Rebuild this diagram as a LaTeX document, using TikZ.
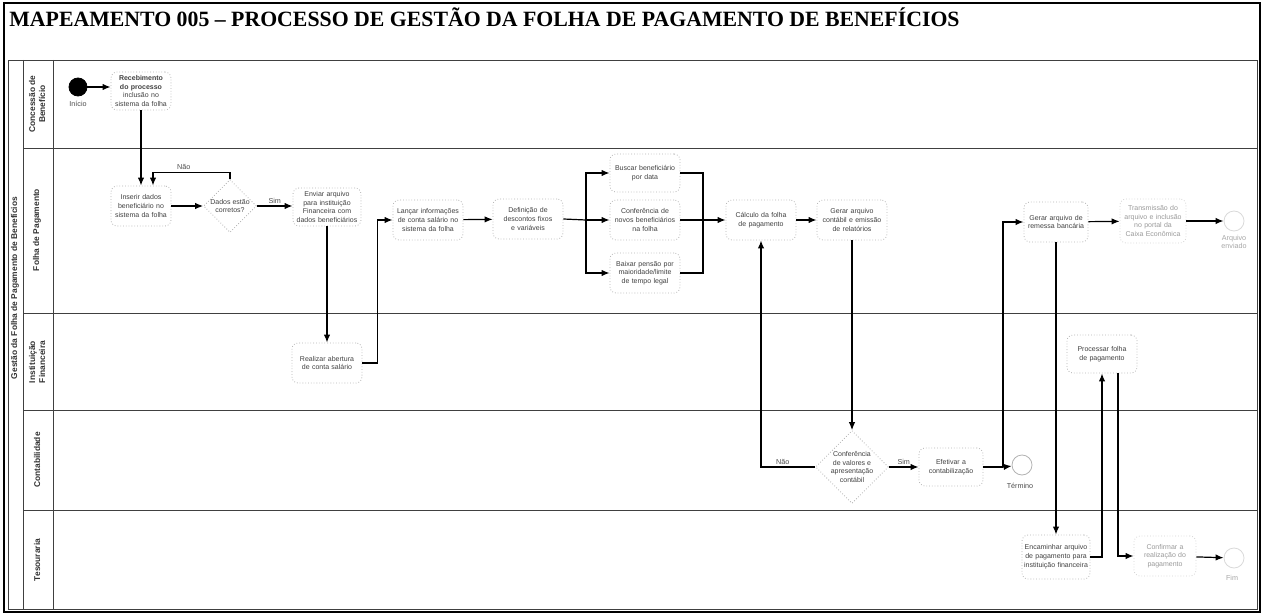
\documentclass[tikz,border=0pt]{standalone}
\usepackage{fontspec}
\setmainfont{Liberation Serif}
\newfontfamily\arial{Liberation Sans}
\usetikzlibrary{shapes.geometric,arrows.meta}
\hyphenpenalty=10000
\exhyphenpenalty=10000
\tikzset{
  tarefa/.style={draw=gray!60, densely dotted, rounded corners=3pt, minimum width=35pt, minimum height=20pt,
    text width=33pt, align=center, inner sep=1pt, font=\arial\fontsize{3.5}{4.4}\selectfont, text=black!75},
  apagada/.style={tarefa, draw=gray!35, text=black!40},
  decisao/.style={diamond, draw=gray!60, densely dotted, aspect=1, inner sep=0pt, align=center,
    font=\arial\fontsize{3.5}{4.2}\selectfont, text=black!75},
  evento/.style={circle, draw=gray!60, minimum size=10pt, inner sep=0pt},
  rotulo/.style={font=\arial\fontsize{3.6}{4.4}\selectfont, text=black!70, inner sep=1pt, align=center},
  fluxo/.style={draw=black, line width=0.6pt, -{Latex[length=4pt,width=3.2pt]}},
  linha/.style={draw=black, line width=0.6pt},
  raia/.style={draw=black!75, line width=0.4pt},
  nomeraia/.style={rotate=90, font=\arial\bfseries\fontsize{4.2}{5}\selectfont, align=center, text=black!80},
}
\begin{document}
\begin{tikzpicture}[x=0.5pt,y=-0.5pt]
   \useasboundingbox (0,0) rectangle (1263,615);
   \draw[line width=0.8pt] (4,3) rectangle (1260,612);
   \node[anchor=base west, inner sep=0pt, font=\bfseries\fontsize{10.9}{12}\selectfont] (titulo) at (9,27)
      {MAPEAMENTO 005 – PROCESSO DE GESTÃO DA FOLHA DE PAGAMENTO DE BENEFÍCIOS};

   \draw[raia] (8,60) rectangle (1257,609);
   \draw[raia] (23,60) -- (23,609);
   \draw[raia] (53,60) -- (53,609);
   \draw[raia] (23,148) -- (1257,148);
   \draw[raia] (23,313) -- (1257,313);
   \draw[raia] (23,410) -- (1257,410);
   \draw[raia] (23,510) -- (1257,510);

   \node[nomeraia] (pool) at (15,288) {Gestão da Folha de Pagamento de Benefícios};
   \node[nomeraia] (concessao) at (37,104) {Concessão de\\Benefício};
   \node[nomeraia] (folha) at (37,230) {Folha de Pagamento};
   \node[nomeraia] (instituicao) at (37,362) {Instituição\\Financeira};
   \node[nomeraia] (contabil) at (37,460) {Contabilidade};
   \node[nomeraia] (tesouraria) at (37,560) {Tesouraria};

   \node[evento, fill=black, draw=black, minimum size=9pt] (inicio) at (78,87) {};
   \node[rotulo] at (78,104) {Início};
   \node[tarefa, minimum width=29pt, minimum height=19pt, text width=28pt] (recebe) at (141,91)
      {\textbf{Recebimento do processo}\\inclusão no sistema da folha};

   \node[tarefa, minimum width=28pt, text width=28pt] (inserir) at (141,206) {Inserir dados beneficiário no sistema da folha};
   \node[decisao, minimum width=25pt, minimum height=25pt] (dados) at (230,206) {Dados estão\\corretos?};
   \node[tarefa, minimum width=32pt, minimum height=19pt, text width=32pt] (enviar) at (327,207)
      {Enviar arquivo para instituição Financeira com dados beneficiários};
   \node[tarefa] (lancar) at (428,220) {Lançar informações de conta salário no sistema da folha};
   \node[tarefa] (descontos) at (528,219) {Definição de descontos fixos e variáveis};
   \node[tarefa, minimum height=19pt] (buscar) at (645,173) {Buscar beneficiário por data};
   \node[tarefa] (conferencia) at (645,220) {Conferência de novos beneficiários na folha};
   \node[tarefa] (baixar) at (645,273) {Baixar pensão por maioridade/limite de tempo legal};
   \node[tarefa] (calculo) at (761,220) {Cálculo da folha de pagamento};
   \node[tarefa] (gerar) at (852,220) {Gerar arquivo contábil e emissão de relatórios};
   \node[tarefa, minimum width=32pt, text width=30pt] (remessa) at (1056,222) {Gerar arquivo de remessa bancária};
   \node[apagada, minimum width=32pt, minimum height=22pt, text width=31pt] (transmite) at (1153,221)
      {Transmissão do arquivo e inclusão no portal da Caixa Econômica};
   \node[evento, draw=gray!30] (fim2) at (1234,221) {};
   \node[rotulo, text=black!35] at (1234,242) {Arquivo\\enviado};

   \node[tarefa] (abertura) at (327,363) {Realizar abertura de conta salário};
   \node[tarefa, minimum width=33pt, minimum height=19pt] (processa) at (1102,354) {Processar folha de pagamento};

   \node[decisao, minimum width=35pt, minimum height=35pt] (conferir) at (852,467)
      {Conferência\\de valores e\\apresentação\\contábil};
   \node[tarefa, minimum width=32pt, minimum height=19pt, text width=30pt] (efetivar) at (951,467) {Efetivar a contabilização};
   \node[evento] (fim1) at (1022,465) {};
   \node[rotulo] at (1020,486) {Término};

   \node[tarefa, minimum width=33pt, minimum height=22pt, text width=32pt] (encaminha) at (1056,557)
      {Encaminhar arquivo de pagamento para instituição financeira};
   \node[apagada, minimum width=30pt, text width=29pt] (confirma) at (1165,556) {Confirmar a realização do pagamento};
   \node[evento, draw=gray!30] (fim3) at (1234,558) {};
   \node[rotulo, text=black!35] at (1232,578) {Fim};

   \draw[fluxo] (inicio) -- (inicio -| recebe.west);
   \draw[fluxo] (recebe.south) -- (recebe.south |- inserir.north);
   \draw[fluxo] (inserir) -- (dados);
   \draw[fluxo] (dados.north) -- ++(0,-7) -| node[rotulo, pos=0.3, above] {Não} ([xshift=6pt]inserir.north);
   \draw[fluxo] (dados.east) -- node[rotulo, above] {Sim} (dados.east -| enviar.west);
   \draw[fluxo] (enviar.south) -- (abertura.north);
   \draw[fluxo] (abertura.east) -- ++(15,0) |- (lancar.west);
   \draw[fluxo] (lancar) -- (descontos);
   \coordinate (divide) at (586,220);
   \draw[linha] (descontos.east) -- (divide);
   \draw[fluxo] (divide) |- (buscar.west);
   \draw[fluxo] (divide) -- (conferencia.west);
   \draw[fluxo] (divide) |- (baixar.west);
   \coordinate (junta) at (703,220);
   \draw[linha] (buscar.east) -| (junta);
   \draw[linha] (baixar.east) -| (junta);
   \draw[linha] (conferencia.east) -- (junta);
   \draw[fluxo] (junta) -- (calculo.west);
   \draw[fluxo] (calculo) -- (gerar);
   \draw[fluxo] (gerar.south) -- (conferir.north);
   \draw[fluxo] (conferir.west) -| node[rotulo, pos=0.3, above] {Não} (calculo.south);
   \draw[fluxo] (conferir.east) -- node[rotulo, above] {Sim} (conferir.east -| efetivar.west);
   \coordinate (ramo) at (1003,467);
   \draw[linha] (efetivar.east) -- (ramo);
   \draw[fluxo] (ramo) -- (fim1);
   \draw[fluxo] (ramo) |- (remessa.west);
   \draw[fluxo] (remessa) -- (transmite);
   \draw[fluxo] (transmite) -- (fim2);
   \draw[fluxo] (remessa.south) -- (encaminha.north);
   \draw[fluxo] (encaminha.east) -| (processa.south);
   \draw[fluxo] ([xshift=8pt]processa.south) |- (confirma.west);
   \draw[fluxo] (confirma) -- (fim3);
\end{tikzpicture}
\end{document}
